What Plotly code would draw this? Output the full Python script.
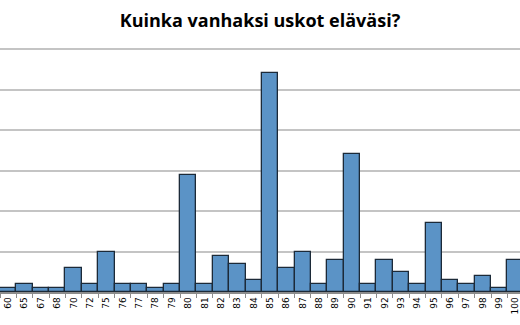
import plotly.graph_objects as go

categories = ["60", "65", "67", "68", "70", "72", "75", "76", "77", "78", "79",
              "80", "81", "82", "83", "84", "85", "86", "87", "88", "89",
              "90", "91", "92", "93", "94", "95", "96", "97", "98", "99", "100"]
counts = [1, 2, 1, 1, 6, 2, 10, 2, 2, 1, 2,
          29, 2, 9, 7, 3, 54, 6, 10, 2, 8,
          34, 2, 8, 5, 2, 17, 3, 2, 4, 1, 8]
title_text = "Kuinka vanhaksi uskot eläväsi?"

fig = go.Figure(go.Bar(
    x=categories, y=counts,
    marker=dict(color="#5b93c6", line=dict(color="#1c2a38", width=1.3)),
))

fig.update_layout(
    width=520, height=325,
    margin=dict(l=0, r=0, t=47, b=33),
    paper_bgcolor="white", plot_bgcolor="white",
    bargap=0,
    showlegend=False,
    title=dict(text="<b>" + title_text + "</b>", x=0.5, xanchor="center",
               y=0.935, yanchor="middle",
               font=dict(family="Open Sans", size=18, color="black")),
    xaxis=dict(type="category", range=[-0.5, 31.27],
               tickangle=-90, tickfont=dict(family="DejaVu Sans", size=9, color="black"),
               showline=True, linecolor="#8c8c8c", linewidth=1.5,
               ticks="outside", tickson="boundaries", ticklen=4, tickcolor="#8c8c8c",
               showgrid=False, fixedrange=True),
    yaxis=dict(range=[0, 60.5], dtick=10, showticklabels=False,
               showgrid=True, gridcolor="#c4c4c4", gridwidth=1.5,
               zeroline=False, showline=False, ticks=""),
)

fig.write_html("out.html")
